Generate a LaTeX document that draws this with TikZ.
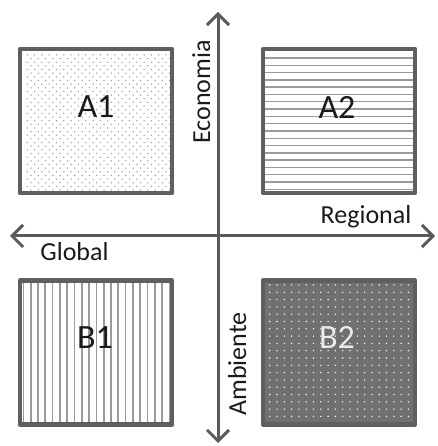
\documentclass[tikz,border=0pt]{standalone}
\usepackage{fontspec}
\setmainfont{Carlito}
\usetikzlibrary{arrows.meta}
\definecolor{bord}{HTML}{5F5F5F}
\definecolor{axisc}{HTML}{5A5A5A}
\definecolor{patc}{HTML}{9A9A9A}
\definecolor{darkfill}{HTML}{707070}
\definecolor{lbl}{HTML}{1A1A1A}
\begin{document}
\begin{tikzpicture}[x=1pt,y=1pt,
  quad/.style={draw=bord, line width=4.5pt, line join=round, inner sep=0pt,
    minimum width=152pt, minimum height=144pt, rectangle},
  axisline/.style={draw=axisc, line width=3pt,
    {Straight Barb[length=11pt,width=22pt]}-{Straight Barb[length=11pt,width=22pt]}},
  quadlbl/.style={font=\fontsize{34}{40}\selectfont, text=lbl, inner sep=0pt},
  axislbl/.style={font=\fontsize{26}{30}\selectfont, text=lbl, inner sep=0pt, anchor=base}]
\useasboundingbox (0,0) rectangle (437,446);

% axes
\coordinate (top) at (218,434);
\coordinate (bot) at (218,3);
\coordinate (lft) at (10,210);
\coordinate (rgt) at (435,210);
\draw[axisline] (bot) -- (top);
\draw[axisline] (lft) -- (rgt);

% patterns (A1: dots)
\begin{scope}
  \clip (20,253) rectangle (172,397);
  \fill[white] (20,253) rectangle (172,397);
  \foreach \i in {0,...,21}{\foreach \j in {0,...,20}{
    \fill[patc] (27.3+7.3*\i,391-7.3*\j) circle (0.75);
    \fill[patc] (31+7.3*\i,387.35-7.3*\j) circle (0.75);
  }}
\end{scope}
% A2: horizontal lines
\begin{scope}
  \clip (263,253) rectangle (415,397);
  \fill[white] (263,253) rectangle (415,397);
  \foreach \j in {0,...,20}{
    \draw[patc, line width=1.4pt] (255,388-7.3*\j) -- (420,388-7.3*\j);
  }
\end{scope}
% B1: vertical lines
\begin{scope}
  \clip (20,22) rectangle (172,165);
  \fill[white] (20,22) rectangle (172,165);
  \foreach \i in {0,...,21}{
    \draw[patc, line width=1.7pt] (23.4+7.3*\i,15) -- (23.4+7.3*\i,170);
  }
\end{scope}
% B2: dark with white dots
\begin{scope}
  \clip (263,22) rectangle (415,165);
  \fill[darkfill] (263,22) rectangle (415,165);
  \foreach \i in {0,...,21}{\foreach \j in {0,...,20}{
    \fill[white!92!darkfill] (269.7+7.3*\i,161-7.3*\j) circle (0.8);
  }}
\end{scope}

% quadrant boxes
\node[quad] (A1) at (96,325) {};
\node[quad] (A2) at (339,325) {};
\node[quad] (B1) at (96,93.5) {};
\node[quad] (B2) at (339,93.5) {};

% quadrant labels
\node[quadlbl] (tA1) at (96,339) {A1};
\node[quadlbl] (tA2) at (337,339) {A2};
\node[quadlbl] (tB1) at (95,108) {B1};
\node[quadlbl, text=white!85!darkfill] (tB2) at (337,109) {B2};

% axis labels
\node[axislbl, rotate=90] (econ) at (210,354) {Economia};
\node[axislbl, rotate=90] (amb) at (246,82) {Ambiente};
\node[axislbl] (reg) at (366,222) {Regional};
\node[axislbl] (glob) at (74.5,185) {Global};
\end{tikzpicture}
\end{document}
